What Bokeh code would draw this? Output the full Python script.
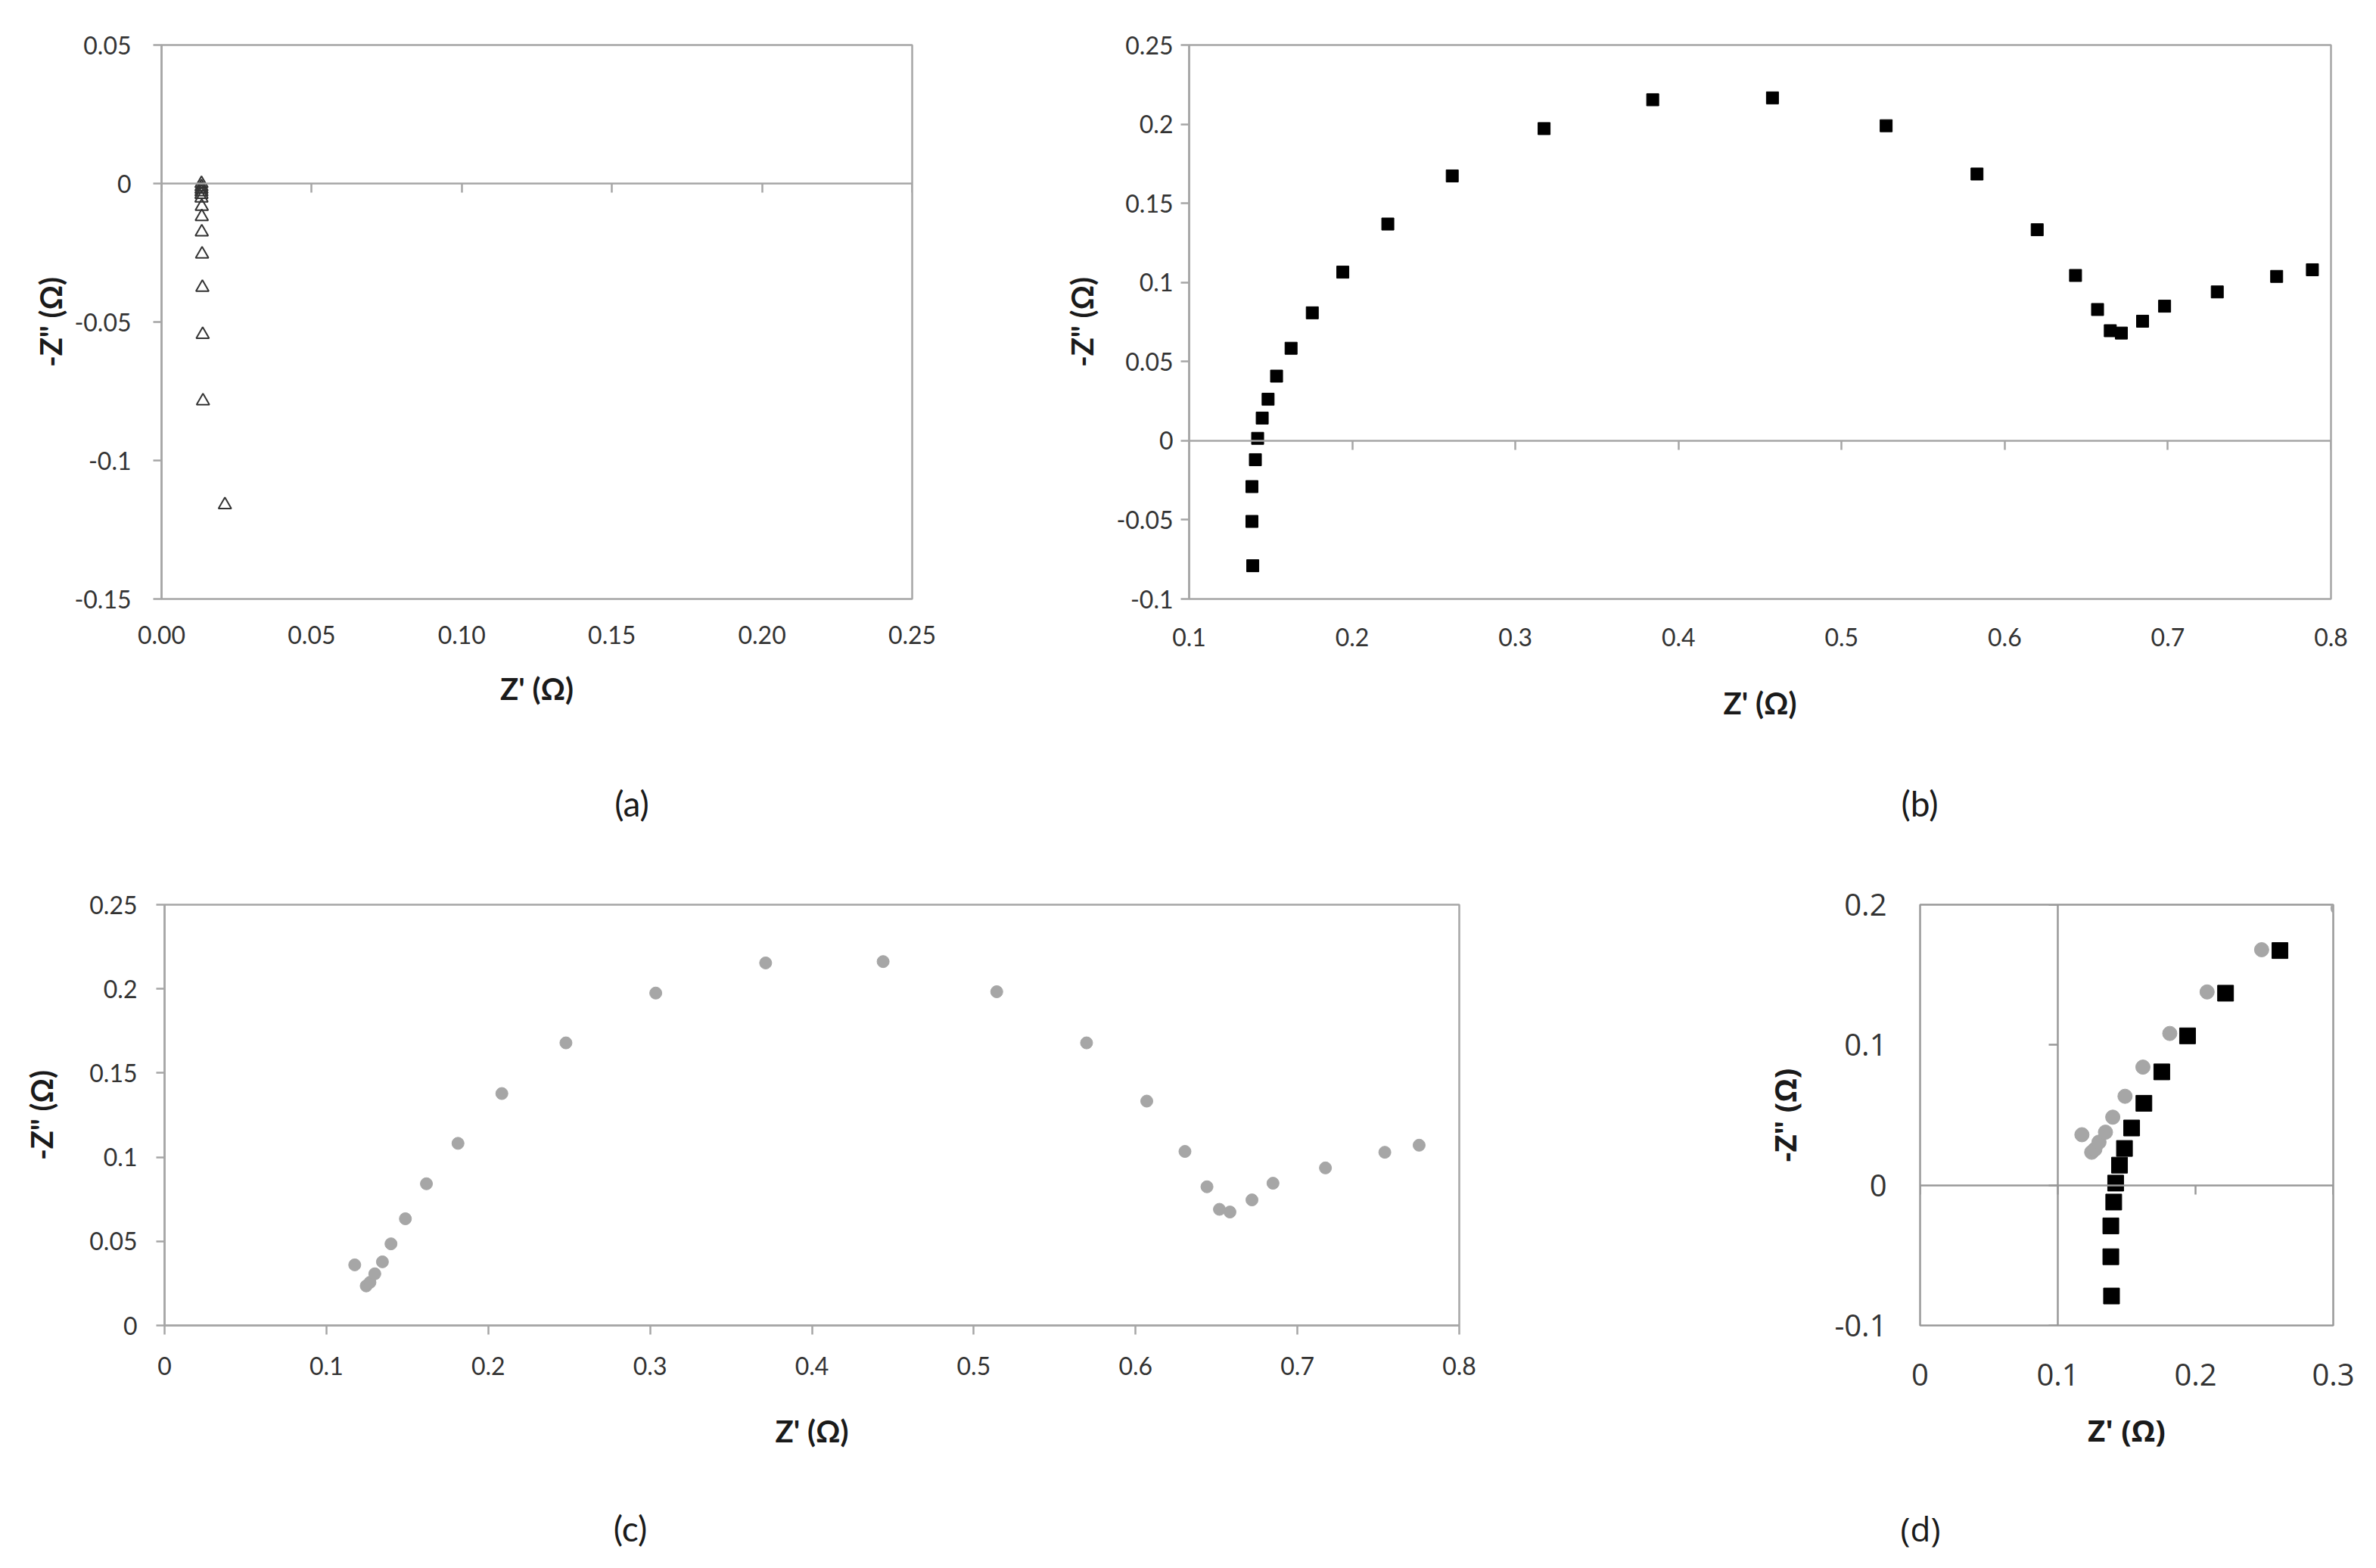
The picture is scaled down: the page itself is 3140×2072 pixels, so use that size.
from bokeh.plotting import figure
from bokeh.models import LinearAxis, FixedTicker, Range1d, Div, Spacer
from bokeh.layouts import column, row
from bokeh.embed import file_html
from bokeh.resources import INLINE

# ---------------- data ----------------
# (a) open triangles
a_zre = [0.0133, 0.0133, 0.0133, 0.0133, 0.0133, 0.0133, 0.0134, 0.0134,
         0.0134, 0.0135, 0.0136, 0.0137, 0.0138, 0.0211]
a_zim = [0.0, -0.0012, -0.0021, -0.0030, -0.0040, -0.0053, -0.0083, -0.0120,
         -0.0175, -0.0255, -0.0375, -0.0545, -0.0785, -0.1160]

# (b) black squares
b_zre = [0.1390, 0.1385, 0.1385, 0.1406, 0.1420, 0.1448, 0.1484, 0.1536,
         0.1625, 0.1755, 0.1942, 0.2218, 0.2613, 0.3176, 0.3842, 0.4576,
         0.5273, 0.5830, 0.6199, 0.6434, 0.6569, 0.6647, 0.6715, 0.6845,
         0.6980, 0.7303, 0.7667, 0.7886]
b_zim = [-0.079, -0.051, -0.029, -0.012, 0.0015, 0.0143, 0.0262, 0.0408,
         0.0584, 0.0808, 0.1065, 0.1369, 0.1673, 0.1972, 0.2154, 0.2166,
         0.1990, 0.1685, 0.1333, 0.1044, 0.0829, 0.0695, 0.0680, 0.0755,
         0.0850, 0.0940, 0.1038, 0.1080]

# (c) grey circles
c_zre = [0.1175, 0.1246, 0.1269, 0.1299, 0.1346, 0.1399, 0.1488, 0.1618,
         0.1813, 0.2084, 0.2480, 0.3035, 0.3714, 0.4440, 0.5142, 0.5697,
         0.6069, 0.6305, 0.6441, 0.6518, 0.6583, 0.6719, 0.6849, 0.7173,
         0.7540, 0.7752]
c_zim = [0.0360, 0.0235, 0.0256, 0.0307, 0.0378, 0.0485, 0.0634, 0.0842,
         0.1082, 0.1378, 0.1679, 0.1975, 0.2154, 0.2162, 0.1983, 0.1679,
         0.1333, 0.1034, 0.0824, 0.0690, 0.0674, 0.0746, 0.0845, 0.0936,
         0.1029, 0.1071]

# ticks
a_xticks = [0.0, 0.05, 0.1, 0.15, 0.2, 0.25]
a_xlabels = ["0.00", "0.05", "0.10", "0.15", "0.20", "0.25"]
a_yticks = [-0.15, -0.1, -0.05, 0.0, 0.05]
a_ylabels = ["-0.15", "-0.1", "-0.05", "0", "0.05"]

b_xticks = [0.1, 0.2, 0.3, 0.4, 0.5, 0.6, 0.7, 0.8]
b_xlabels = ["0.1", "0.2", "0.3", "0.4", "0.5", "0.6", "0.7", "0.8"]
b_yticks = [-0.1, -0.05, 0.0, 0.05, 0.1, 0.15, 0.2, 0.25]
b_ylabels = ["-0.1", "-0.05", "0", "0.05", "0.1", "0.15", "0.2", "0.25"]

c_xticks = [0.0, 0.1, 0.2, 0.3, 0.4, 0.5, 0.6, 0.7, 0.8]
c_xlabels = ["0", "0.1", "0.2", "0.3", "0.4", "0.5", "0.6", "0.7", "0.8"]
c_yticks = [0.0, 0.05, 0.1, 0.15, 0.2, 0.25]
c_ylabels = ["0", "0.05", "0.1", "0.15", "0.2", "0.25"]

d_xticks = [0.0, 0.1, 0.2, 0.3]
d_xlabels = ["0", "0.1", "0.2", "0.3"]
d_yticks = [-0.1, 0.0, 0.1, 0.2]
d_ylabels = ["-0.1", "0", "0.1", "0.2"]

x_title = "Z' (\u03a9)"
y_title = "-Z\" (\u03a9)"
panel_names = ["(a)", "(b)", "(c)", "(d)"]

# ---------------- styles ----------------
GRAY = "#a6a6a6"
TICK_COLOR = "#333333"
TITLE_COLOR = "#1a1a1a"
LATO = "Lato"
OPEN = "Open Sans"


def base_fig(w, h, xr, yr, bl, br, bt, bb, outline=GRAY):
    p = figure(width=w, height=h, x_range=Range1d(*xr), y_range=Range1d(*yr),
               output_backend="svg", toolbar_location=None,
               min_border_left=bl, min_border_right=br,
               min_border_top=bt, min_border_bottom=bb)
    p.grid.visible = False
    p.outline_line_color = outline
    p.outline_line_width = 2.5
    p.background_fill_color = "white"
    p.border_fill_color = "white"
    return p


def style_axis(ax, ticks, labels, font, size, tick_out, standoff, line=True):
    ax.ticker = FixedTicker(ticks=ticks)
    ax.major_label_overrides = dict(zip(ticks, labels))
    ax.major_label_text_font = font
    ax.major_label_text_font_size = size
    ax.major_label_text_color = TICK_COLOR
    ax.major_label_standoff = standoff
    ax.major_tick_out = tick_out
    ax.major_tick_in = 0
    ax.minor_tick_line_color = None
    ax.major_tick_line_color = GRAY if tick_out else None
    ax.major_tick_line_width = 2.5
    ax.axis_line_color = GRAY if line else None
    ax.axis_line_width = 2.5


def tick_only_axis(ax, ticks, loc, tick_out, color=GRAY):
    ax.fixed_location = loc
    ax.ticker = FixedTicker(ticks=ticks)
    ax.major_label_text_color = None
    ax.major_label_text_font_size = "1px"
    ax.major_label_standoff = 0
    ax.major_tick_out = tick_out
    ax.major_tick_in = 0
    ax.major_tick_line_color = color
    ax.major_tick_line_width = 2.5
    ax.minor_tick_line_color = None
    ax.axis_line_color = color
    ax.axis_line_width = 2.5


def set_title(ax, text, font, size, standoff):
    ax.axis_label = text
    ax.axis_label_text_font = font
    ax.axis_label_text_font_size = size
    ax.axis_label_text_font_style = "bold"
    ax.axis_label_text_color = TITLE_COLOR
    ax.axis_label_standoff = standoff


LH = 60  # height of the caption rows


def letter(text, font, size):
    return Div(text=text, width=200, height=LH, margin=(0, 0, 0, 0),
               styles={"font-family": font, "font-size": size,
                       "line-height": "%dpx" % LH, "text-align": "center",
                       "color": TITLE_COLOR, "width": "200px"})


# row heights (page origin at 0,0)
H1 = 1032
H2 = 898
TOP2 = H1 + LH

# ---------------- (a) ----------------
pa = base_fig(1300, H1, (0, 0.25), (-0.15, 0.05), 213, 95, 56, H1 - 791)
tick_only_axis(pa.xaxis[0], a_xticks, 0, 12)
ax_a = LinearAxis()
style_axis(ax_a, a_xticks, a_xlabels, LATO, "32px", 0, 35, line=False)
set_title(ax_a, x_title, LATO, "40px", 32)
pa.add_layout(ax_a, "below")
style_axis(pa.yaxis[0], a_yticks, a_ylabels, LATO, "32px", 11, 29)
set_title(pa.yaxis[0], y_title, LATO, "40px", 4)
pa.scatter(a_zre, a_zim, marker="triangle", size=17, fill_color=None,
           line_color="#333333", line_width=2)

# ---------------- (b) ----------------
pb = base_fig(1840, H1, (0.1, 0.8), (-0.1, 0.25), 271, 60, 59, H1 - 792)
tick_only_axis(pb.xaxis[0], b_xticks, 0, 12)
ax_b = LinearAxis()
style_axis(ax_b, b_xticks, b_xlabels, LATO, "32px", 0, 38, line=False)
set_title(ax_b, x_title, LATO, "40px", 48)
pb.add_layout(ax_b, "below")
style_axis(pb.yaxis[0], b_yticks, b_ylabels, LATO, "32px", 11, 10)
set_title(pb.yaxis[0], y_title, LATO, "40px", 18)
pb.scatter(b_zre, b_zim, marker="square", size=16, fill_color="black",
           line_color="black")

# ---------------- (c) ----------------
pc = base_fig(2300, H2, (0, 0.8), (0, 0.25), 217, 372, 1194 - TOP2,
              TOP2 + H2 - 1751)
style_axis(pc.xaxis[0], c_xticks, c_xlabels, LATO, "32px", 12, 29)
set_title(pc.xaxis[0], x_title, LATO, "40px", 47)
style_axis(pc.yaxis[0], c_yticks, c_ylabels, LATO, "32px", 11, 25)
set_title(pc.yaxis[0], y_title, LATO, "40px", 36)
pc.scatter(c_zre, c_zim, marker="circle", size=16, fill_color="#a6a6a6",
           line_color="#a6a6a6")

# ---------------- (d) ----------------
DGRAY = "#999999"
pd_ = base_fig(840, H2, (0, 0.3), (-0.1, 0.2), 237, 57, 1195 - TOP2,
               TOP2 + H2 - 1751, outline=DGRAY)
tick_only_axis(pd_.xaxis[0], d_xticks, 0, 12, DGRAY)
tick_only_axis(pd_.yaxis[0], d_yticks, 0.1, 12, DGRAY)
ax_dx = LinearAxis()
style_axis(ax_dx, d_xticks, d_xlabels, OPEN, "40px", 0, 50, line=False)
set_title(ax_dx, x_title, OPEN, "40px", 28)
pd_.add_layout(ax_dx, "below")
ax_dy = LinearAxis()
style_axis(ax_dy, d_yticks, d_ylabels, OPEN, "40px", 0, 44, line=False)
set_title(ax_dy, y_title, OPEN, "40px", 35)
pd_.add_layout(ax_dy, "left")
pd_.scatter(c_zre, c_zim, marker="circle", size=19, fill_color="#a6a6a6",
            line_color="#a6a6a6")
pd_.scatter(b_zre, b_zim, marker="square", size=21, fill_color="black",
            line_color="black")

# ---------------- captions ----------------
cap1 = row(Spacer(width=735, height=LH), letter(panel_names[0], LATO, "46px"),
           Spacer(width=2437 - 935, height=LH), letter(panel_names[1], LATO, "46px"))
cap2 = row(Spacer(width=733, height=LH), letter(panel_names[2], LATO, "46px"),
           Spacer(width=2438 - 933, height=LH), letter(panel_names[3], OPEN, "44px"))

layout = column(row(pa, pb), cap1, row(pc, pd_), cap2)
open("out.html", "w").write(file_html(layout, INLINE))
